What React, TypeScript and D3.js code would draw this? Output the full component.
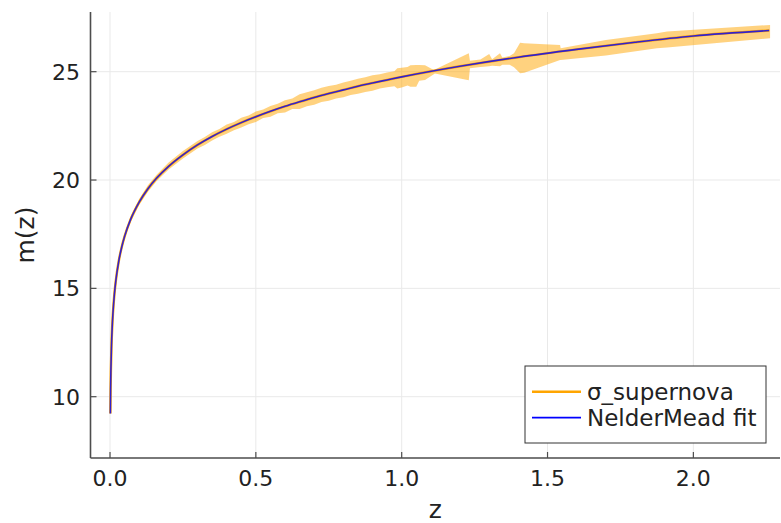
import React, { useRef, useEffect } from 'react';
import * as d3 from 'd3';

// NelderMead fit
const fitZ = [0.0012, 0.002, 0.003, 0.005, 0.0075, 0.01, 0.015, 0.02, 0.03, 0.04, 0.05, 0.07, 0.1, 0.13, 0.16, 0.2, 0.25, 0.3, 0.35, 0.4, 0.45, 0.5, 0.55, 0.6, 0.65, 0.7, 0.75, 0.8, 0.85, 0.9, 0.95, 1.0, 1.2, 1.4, 1.6, 1.8, 2.0, 2.26];
const fitM = [9.22, 10.33, 11.21, 12.32, 13.21, 13.84, 14.73, 15.36, 16.26, 16.9, 17.4, 18.16, 18.98, 19.6, 20.09, 20.62, 21.16, 21.62, 22.01, 22.35, 22.65, 22.92, 23.17, 23.4, 23.61, 23.81, 23.99, 24.16, 24.33, 24.48, 24.62, 24.76, 25.25, 25.67, 26.03, 26.36, 26.65, 26.9];

// σ_supernova ribbon (lower / upper edge)
const bandZ = [0.0012, 0.002, 0.003, 0.005, 0.0075, 0.01, 0.015, 0.02, 0.03, 0.04, 0.05, 0.07, 0.1, 0.13, 0.16, 0.2, 0.25,
  0.3, 0.325, 0.35, 0.375, 0.4, 0.425, 0.45, 0.475, 0.5, 0.525, 0.55, 0.575, 0.6, 0.625, 0.65, 0.675, 0.7, 0.725, 0.75, 0.775, 0.8, 0.825, 0.85, 0.875, 0.9, 0.925,
  0.95, 0.975, 0.985, 1.0, 1.02, 1.03, 1.05, 1.06, 1.08, 1.11, 1.114, 1.23, 1.234, 1.27, 1.3, 1.31, 1.337, 1.345, 1.37, 1.385, 1.406, 1.42, 1.543, 1.545, 1.7, 1.875, 1.91, 2.263];
const bandLo = [9.17, 10.26, 11.13, 12.24, 13.12, 13.75, 14.64, 15.26, 16.15, 16.79, 17.28, 18.04, 18.85, 19.46, 19.95, 20.47, 20.99,
  21.45, 21.62, 21.82, 22.0, 22.14, 22.3, 22.42, 22.58, 22.68, 22.86, 22.92, 23.08, 23.12, 23.28, 23.28, 23.4, 23.48, 23.6, 23.66, 23.76, 23.82, 23.92, 23.98, 24.06, 24.12, 24.22,
  24.28, 24.33, 24.23, 24.27, 24.36, 24.31, 24.31, 24.58, 24.62, 24.88, 24.92, 24.61, 25.16, 25.22, 25.25, 25.28, 25.25, 25.32, 25.32, 25.2, 24.93, 24.95, 25.54, 25.54, 25.75, 26.08, 26.12, 26.54];
const bandHi = [9.27, 10.4, 11.29, 12.41, 13.3, 13.94, 14.83, 15.47, 16.38, 17.02, 17.52, 18.3, 19.12, 19.76, 20.24, 20.8, 21.34,
  21.8, 21.99, 22.2, 22.35, 22.56, 22.68, 22.88, 22.98, 23.16, 23.26, 23.42, 23.52, 23.68, 23.76, 23.96, 24.05, 24.14, 24.26, 24.34, 24.4, 24.5, 24.58, 24.68, 24.74, 24.84, 24.88,
  24.96, 25.02, 25.16, 25.18, 25.22, 25.3, 25.31, 25.31, 25.3, 25.08, 25.1, 25.85, 25.51, 25.56, 25.82, 25.58, 25.85, 25.66, 25.72, 25.85, 26.34, 26.31, 26.23, 26.08, 26.46, 26.77, 26.85, 27.16];

const xTicks = [0, 0.5, 1.0, 1.5, 2.0];
const yTicks = [10, 15, 20, 25];
const seriesLabels = ['σ_supernova', 'NelderMead fit'];
const seriesColors = ['#ffa500', '#0000ff'];

const W = 781;
const H = 523;
const FONT = 'DejaVu Sans, sans-serif';

const App = () => {
  const svgRef = useRef<SVGSVGElement>(null);

  useEffect(() => {
    const svg = d3.select(svgRef.current);
    svg.selectAll('*').remove();

    const left = 90.5, right = 780, top = 12, bottom = 458;
    const x = d3.scaleLinear().domain([-0.0669, 2.297]).range([left, right]);
    const y = d3.scaleLinear().domain([7.171, 27.755]).range([bottom, top]);

    svg.append('rect').attr('width', W).attr('height', H).attr('fill', 'white');

    // grid
    const grid = svg.append('g').attr('stroke', '#e9e9e9').attr('stroke-width', 1);
    xTicks.forEach(t => {
      grid.append('line').attr('x1', x(t)).attr('x2', x(t)).attr('y1', top).attr('y2', bottom);
    });
    yTicks.forEach(t => {
      grid.append('line').attr('x1', left).attr('x2', right).attr('y1', y(t)).attr('y2', y(t));
    });

    // ribbon
    const band = bandZ.map((z, i) => ({ z, lo: bandLo[i], hi: bandHi[i] }));
    const area = d3.area<{ z: number; lo: number; hi: number }>()
      .x(d => x(d.z))
      .y0(d => y(d.lo))
      .y1(d => y(d.hi));
    svg.append('path')
      .attr('d', area(band))
      .attr('fill', seriesColors[0])
      .attr('fill-opacity', 0.5);

    // lines
    const fit = fitZ.map((z, i) => ({ z, m: fitM[i] }));
    const line = d3.line<{ z: number; m: number }>()
      .x(d => x(d.z))
      .y(d => y(d.m))
      .curve(d3.curveMonotoneX);
    svg.append('path')
      .attr('d', line(fit))
      .attr('fill', 'none')
      .attr('stroke', seriesColors[0])
      .attr('stroke-width', 2.5);
    svg.append('path')
      .attr('d', line(fit))
      .attr('fill', 'none')
      .attr('stroke', seriesColors[1])
      .attr('stroke-opacity', 0.8)
      .attr('stroke-width', 1.6);

    // axes
    const axisColor = '#4d4d4d';
    svg.append('line').attr('x1', left).attr('x2', left).attr('y1', top).attr('y2', bottom)
      .attr('stroke', axisColor).attr('stroke-width', 1.6);
    svg.append('line').attr('x1', left).attr('x2', right).attr('y1', bottom).attr('y2', bottom)
      .attr('stroke', axisColor).attr('stroke-width', 1.6);

    xTicks.forEach(t => {
      svg.append('line').attr('x1', x(t)).attr('x2', x(t)).attr('y1', bottom).attr('y2', bottom - 6)
        .attr('stroke', axisColor).attr('stroke-width', 1.2);
      svg.append('text')
        .attr('x', x(t)).attr('y', 486)
        .attr('text-anchor', 'middle')
        .attr('font-family', FONT).attr('font-size', 22).attr('fill', '#222')
        .text(d3.format('.1f')(t));
    });
    yTicks.forEach(t => {
      svg.append('line').attr('x1', left).attr('x2', left + 6).attr('y1', y(t)).attr('y2', y(t))
        .attr('stroke', axisColor).attr('stroke-width', 1.2);
      svg.append('text')
        .attr('x', 80).attr('y', y(t) + 8)
        .attr('text-anchor', 'end')
        .attr('font-family', FONT).attr('font-size', 22).attr('fill', '#222')
        .text(String(t));
    });

    // axis labels
    svg.append('text')
      .attr('x', (left + right) / 2).attr('y', 518)
      .attr('text-anchor', 'middle')
      .attr('font-family', FONT).attr('font-size', 25).attr('fill', '#222')
      .text('z');
    svg.append('text')
      .attr('transform', `translate(34, ${(top + bottom) / 2}) rotate(-90)`)
      .attr('text-anchor', 'middle')
      .attr('font-family', FONT).attr('font-size', 25).attr('fill', '#222')
      .text('m(z)');

    // legend
    const lg = svg.append('g');
    lg.append('rect').attr('x', 525).attr('y', 366).attr('width', 241).attr('height', 77)
      .attr('fill', 'white').attr('stroke', '#333').attr('stroke-width', 1);
    seriesLabels.forEach((lab, i) => {
      const ly = 391.7 + i * 26;
      lg.append('line').attr('x1', 532).attr('x2', 581).attr('y1', ly).attr('y2', ly)
        .attr('stroke', seriesColors[i]).attr('stroke-width', i === 0 ? 2.5 : 1.8);
      lg.append('text').attr('x', 587).attr('y', ly + 8)
        .attr('font-family', FONT).attr('font-size', 23).attr('fill', '#222')
        .text(lab);
    });
  }, []);

  return (
    <div style={{ width: W, height: H }}>
      <svg ref={svgRef} width={W} height={H} style={{ position: 'absolute', left: 0, top: 0 }}></svg>
    </div>
  );
};

export default App;
